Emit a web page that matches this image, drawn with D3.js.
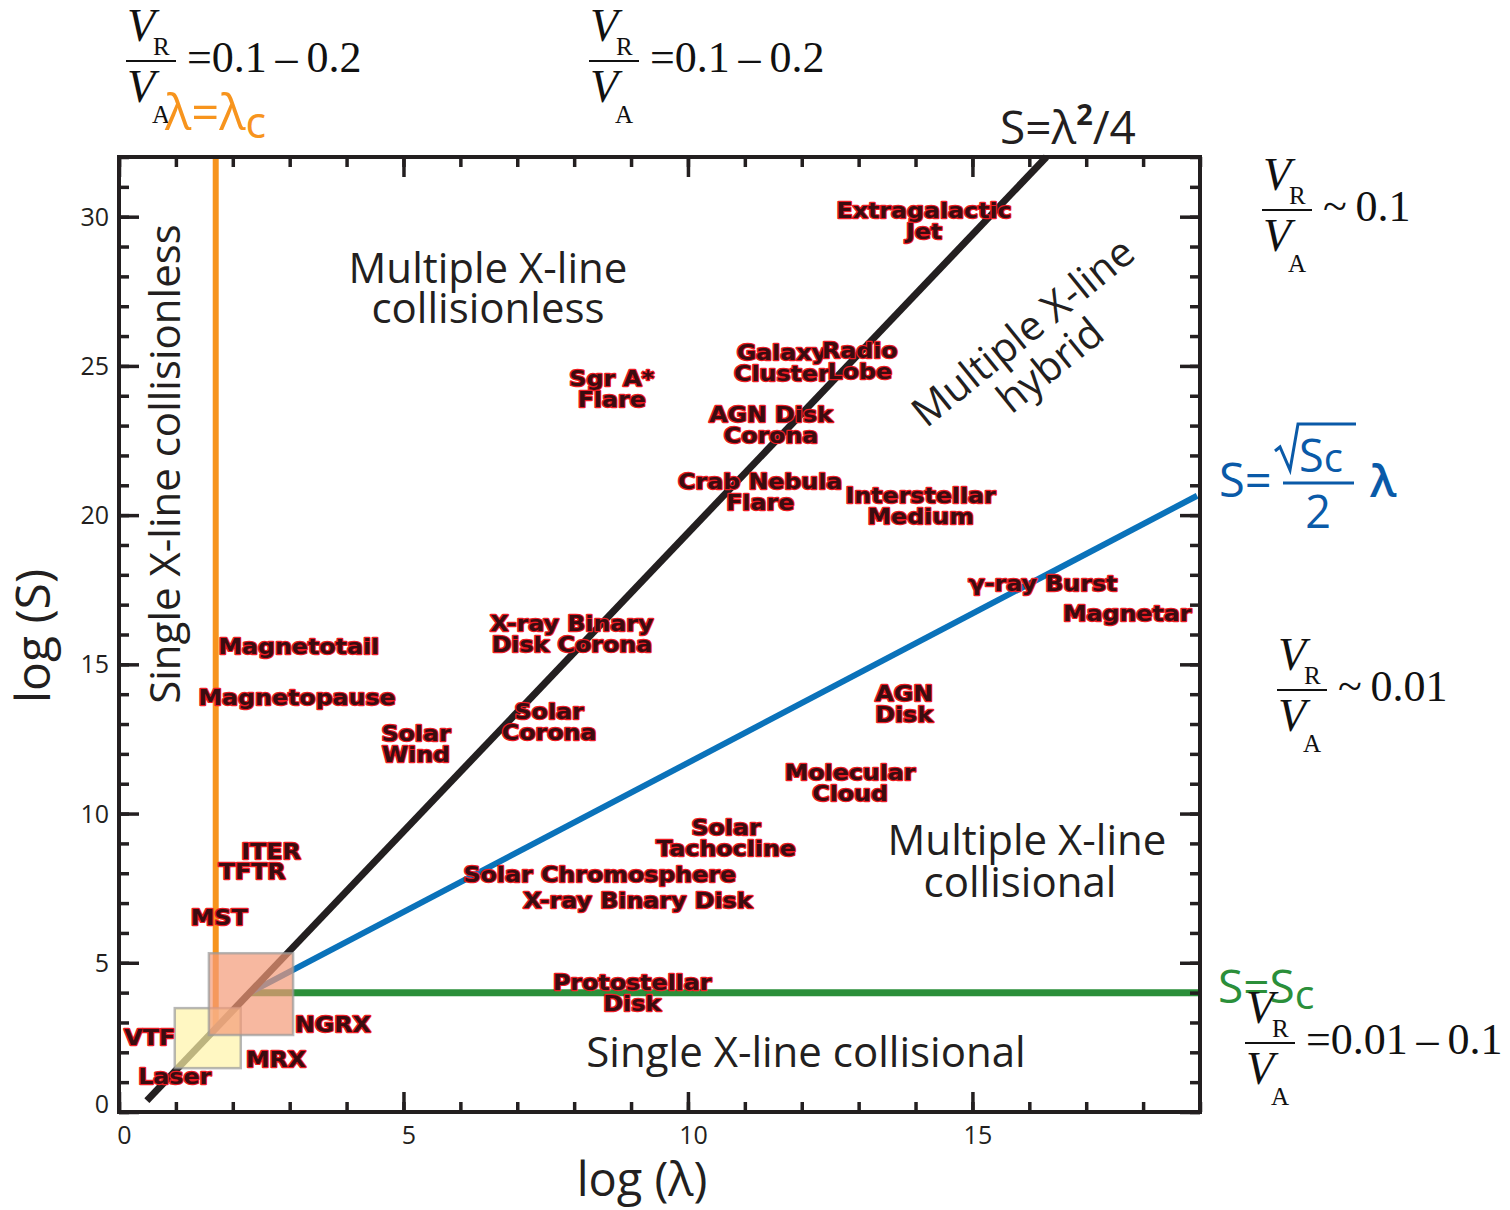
<!DOCTYPE html>
<html>
<head>
<meta charset="utf-8">
<script src="https://cdn.jsdelivr.net/npm/d3@7"></script>
<style>
  body { margin: 0; background: #fff; }
  svg text { font-family: "Open Sans", "Noto Sans", sans-serif; }
</style>
</head>
<body>
<div id="chart"></div>
<script>
// Оси
const xTicks = [0, 5, 10, 15]
const yTicks = [0, 5, 10, 15, 20, 25, 30]
const xMinor = d3.range(0, 20, 1)
const yMinor = d3.range(0, 33, 1)

// Объекты (подписи) - log(lambda), log(S)
const objNames = ['Extragalactic\nJet', 'Galaxy\nCluster', 'Radio\nLobe', 'Sgr A*\nFlare', 'AGN Disk\nCorona',
  'Crab Nebula\nFlare', 'Interstellar\nMedium', 'γ-ray Burst', 'Magnetar', 'X-ray Binary\nDisk Corona',
  'Magnetotail', 'Magnetopause', 'Solar\nWind', 'Solar\nCorona', 'AGN\nDisk', 'Molecular\nCloud',
  'Solar\nTachocline', 'Solar Chromosphere', 'X-ray Binary Disk', 'ITER', 'TFTR', 'MST',
  'Protostellar\nDisk', 'VTF', 'NGRX', 'MRX', 'Laser']
const objLogLambda = [14.15, 11.65, 13.02, 8.66, 11.46, 11.27, 14.09, 16.24, 17.72, 7.96,
  3.16, 3.13, 5.22, 7.56, 13.80, 12.85, 10.67, 8.45, 9.12, 2.67, 2.34, 1.76,
  9.02, 0.54, 3.76, 2.76, 0.98]
const objLogS = [29.86, 25.12, 25.18, 24.26, 23.04, 20.79, 20.32, 17.73, 16.72, 16.02,
  15.62, 13.91, 12.36, 13.09, 13.70, 11.05, 9.20, 7.99, 7.09, 8.76, 8.09, 6.52,
  4.01, 2.51, 2.94, 1.77, 1.20]

// Линии режимов (концы)
const blackX = [0.49, 16.3], blackY = [0.38, 32]
const blueX = [2.3, 18.95], blueY = [4.0, 20.65]
const greenX = [2.3, 19], greenY = [4, 4]
const orangeX = [1.7, 1.7], orangeY = [2.8, 32]

// Эксперименты (прямоугольники)
const boxX0 = [0.98, 1.58], boxX1 = [2.14, 3.06]
const boxY0 = [1.47, 2.58], boxY1 = [3.48, 5.32]
const boxFill = ['#fff3a8', '#f49a77']

const W = 1510, H = 1210
const svg = d3.select('#chart').append('svg').attr('width', W).attr('height', H)

const x = d3.scaleLinear().domain([0, 19]).range([119, 1200])
const y = d3.scaleLinear().domain([0, 32]).range([1112, 157])
const INK = '#231f20'

// линии
function seg(xs, ys, color, w){
  svg.append('line')
    .attr('x1', x(xs[0])).attr('y1', y(ys[0]))
    .attr('x2', x(xs[1])).attr('y2', y(ys[1]))
    .attr('stroke', color).attr('stroke-width', w)
}
seg(orangeX, orangeY, '#f7941d', 6)
seg(greenX, greenY, '#2b8f3a', 7)
seg(blueX, blueY, '#0a72ba', 6)
seg(blackX, blackY, INK, 7)

// прямоугольники поверх линий
boxX0.forEach((d, i) => {
  svg.append('rect')
    .attr('x', x(d)).attr('y', y(boxY1[i]))
    .attr('width', x(boxX1[i]) - x(d)).attr('height', y(boxY0[i]) - y(boxY1[i]))
    .attr('fill', boxFill[i]).attr('fill-opacity', 0.7)
    .attr('stroke', '#9a9a9a').attr('stroke-opacity', 0.7).attr('stroke-width', 2.5)
})

// рамка и тики
function ticks(axis, transform, vals, size, labels){
  const g = svg.append('g').attr('transform', transform)
    .call(axis.tickValues(vals).tickSize(size).tickSizeOuter(0).tickFormat(labels ? d3.format('d') : ''))
  g.select('.domain').remove()
  g.selectAll('.tick line').attr('stroke', INK).attr('stroke-width', 3.5)
  g.selectAll('.tick text').attr('fill', INK).attr('font-size', 25)
    .style('font-family', '"Open Sans", sans-serif')
  return g
}
ticks(d3.axisBottom(x), 'translate(0,1112)', xMinor, -10, false)
ticks(d3.axisBottom(x), 'translate(0,1112)', xTicks, -20, false)
const bl = ticks(d3.axisBottom(x), 'translate(0,1112)', xTicks, 0, true)
bl.selectAll('.tick text').attr('y', 14).attr('dx', 5).attr('dy', '0.71em')
ticks(d3.axisTop(x), 'translate(0,157)', xMinor, -10, false)
ticks(d3.axisTop(x), 'translate(0,157)', xTicks, -20, false)
ticks(d3.axisLeft(y), 'translate(119,0)', yMinor, -10, false)
ticks(d3.axisLeft(y), 'translate(119,0)', yTicks, -20, false)
const ll = ticks(d3.axisLeft(y), 'translate(119,0)', yTicks, 0, true)
ll.selectAll('.tick text').attr('x', -10).attr('dy', d => d === 0 ? '0.0em' : '0.34em')
ticks(d3.axisRight(y), 'translate(1200,0)', yMinor, -10, false)
ticks(d3.axisRight(y), 'translate(1200,0)', yTicks, -20, false)

svg.append('rect').attr('x', 119).attr('y', 157).attr('width', 1081).attr('height', 955)
  .attr('fill', 'none').attr('stroke', INK).attr('stroke-width', 4)

// подписи осей
svg.append('text').attr('x', 642).attr('y', 1196).attr('text-anchor', 'middle')
  .attr('font-size', 47).attr('fill', INK).text('log (λ)')
svg.append('text').attr('transform', 'translate(50,636) rotate(-90)').attr('text-anchor', 'middle')
  .attr('font-size', 48).attr('fill', INK).text('log (S)')

// области
function region(tx, lines, size, lh, dxs){
  const t = svg.append('text').attr('transform', tx).attr('text-anchor', 'middle')
    .attr('font-size', size).attr('fill', INK)
  lines.forEach((s, i) => t.append('tspan').attr('x', dxs ? dxs[i] : 0).attr('y', i * lh).text(s))
}
region('translate(488,283)', ['Multiple X-line', 'collisionless'], 42, 40)
region('translate(180,464) rotate(-90)', ['Single X-line collisionless'], 42, 40)
region('translate(1032,343) rotate(-39)', ['Multiple X-line', 'hybrid'], 41, 43)
region('translate(1027,855)', ['Multiple X-line', 'collisional'], 42, 42, [0, -7])
region('translate(806,1067)', ['Single X-line collisional'], 42, 40)

// объекты
objNames.forEach((name, i) => {
  const lines = name.split('\n')
  const t = svg.append('text').attr('text-anchor', 'middle')
    .attr('transform', `translate(${x(objLogLambda[i])},${y(objLogS[i])}) scale(1.13,1)`)
    .attr('font-size', 21).attr('font-weight', 700)
    .style('font-family', '"DejaVu Sans", sans-serif')
    .attr('fill', '#3a0c10').attr('stroke', '#ed1c24').attr('stroke-width', 2.4)
    .attr('paint-order', 'stroke').attr('stroke-linejoin', 'round')
  lines.forEach((s, j) => {
    t.append('tspan').attr('x', 0)
      .attr('y', (j - (lines.length - 1) / 2) * 21 + 8).text(s)
  })
})

// формулы V_R / V_A
function frac(x0, yb, rest){
  const g = svg.append('g').attr('fill', '#111')
  const serif = '"Liberation Serif", "Times New Roman", serif'
  g.append('text').attr('x', x0 + 1).attr('y', yb - 20).attr('font-size', 46).attr('font-style', 'italic')
    .style('font-family', serif).text('V')
  g.append('text').attr('x', x0 + 27).attr('y', yb - 6).attr('font-size', 25)
    .style('font-family', serif).text('R')
  g.append('line').attr('x1', x0).attr('x2', x0 + 50).attr('y1', yb).attr('y2', yb)
    .attr('stroke', '#111').attr('stroke-width', 2)
  g.append('text').attr('x', x0 + 1).attr('y', yb + 41).attr('font-size', 46).attr('font-style', 'italic')
    .style('font-family', serif).text('V')
  g.append('text').attr('x', x0 + 26).attr('y', yb + 62).attr('font-size', 25)
    .style('font-family', serif).text('A')
  g.append('text').attr('x', x0 + 61).attr('y', yb + 11).attr('font-size', 44)
    .style('font-family', serif).text(rest)
}
frac(126, 61, '=0.1\u2009\u2013\u20090.2')
frac(589, 61, '=0.1\u2009\u2013\u20090.2')
frac(1262, 210, '~\u20090.1')
frac(1277, 690, '~\u20090.01')

// λ = λc
const lc = svg.append('text').attr('x', 165).attr('y', 130).attr('font-size', 49).attr('fill', '#f7941d')
lc.append('tspan').text('λ=λ')
lc.append('tspan').attr('font-size', 43).attr('dy', 8).text('c')

// S = λ²/4
const sl = svg.append('text').attr('x', 1000).attr('y', 144).attr('font-size', 46).attr('fill', INK)
sl.append('tspan').text('S=λ')
sl.append('tspan').attr('font-size', 29).attr('font-weight', 700).attr('dy', -19).text('2')
sl.append('tspan').attr('dy', 19).text('/4')

// S = sqrt(Sc)/2 λ
const BLUE = '#0a5aa8'
svg.append('text').attr('x', 1219).attr('y', 497).attr('font-size', 47).attr('fill', BLUE).text('S=')
svg.append('path').attr('d', 'M1275,451 L1280,447 L1290,470 L1298,424 L1356,424')
  .attr('fill', 'none').attr('stroke', BLUE).attr('stroke-width', 3)
const sc = svg.append('text').attr('x', 1299).attr('y', 472).attr('font-size', 45).attr('fill', BLUE)
sc.append('tspan').text('S')
sc.append('tspan').attr('font-size', 40).text('c')
svg.append('line').attr('x1', 1283).attr('x2', 1354).attr('y1', 483).attr('y2', 483)
  .attr('stroke', BLUE).attr('stroke-width', 3)
svg.append('text').attr('x', 1318).attr('y', 528).attr('text-anchor', 'middle').attr('font-size', 45)
  .attr('fill', BLUE).text('2')
svg.append('text').attr('x', 1370).attr('y', 497).attr('font-size', 46).attr('font-weight', 600)
  .attr('fill', BLUE).text('λ')

// S = Sc
const ss = svg.append('text').attr('x', 1218).attr('y', 1003).attr('font-size', 46).attr('fill', '#2b8f3a')
ss.append('tspan').text('S=S')
ss.append('tspan').attr('font-size', 41).attr('dy', 6).text('c')

frac(1245, 1043, '=0.01\u2009\u2013\u20090.1')
</script>
</body>
</html>
